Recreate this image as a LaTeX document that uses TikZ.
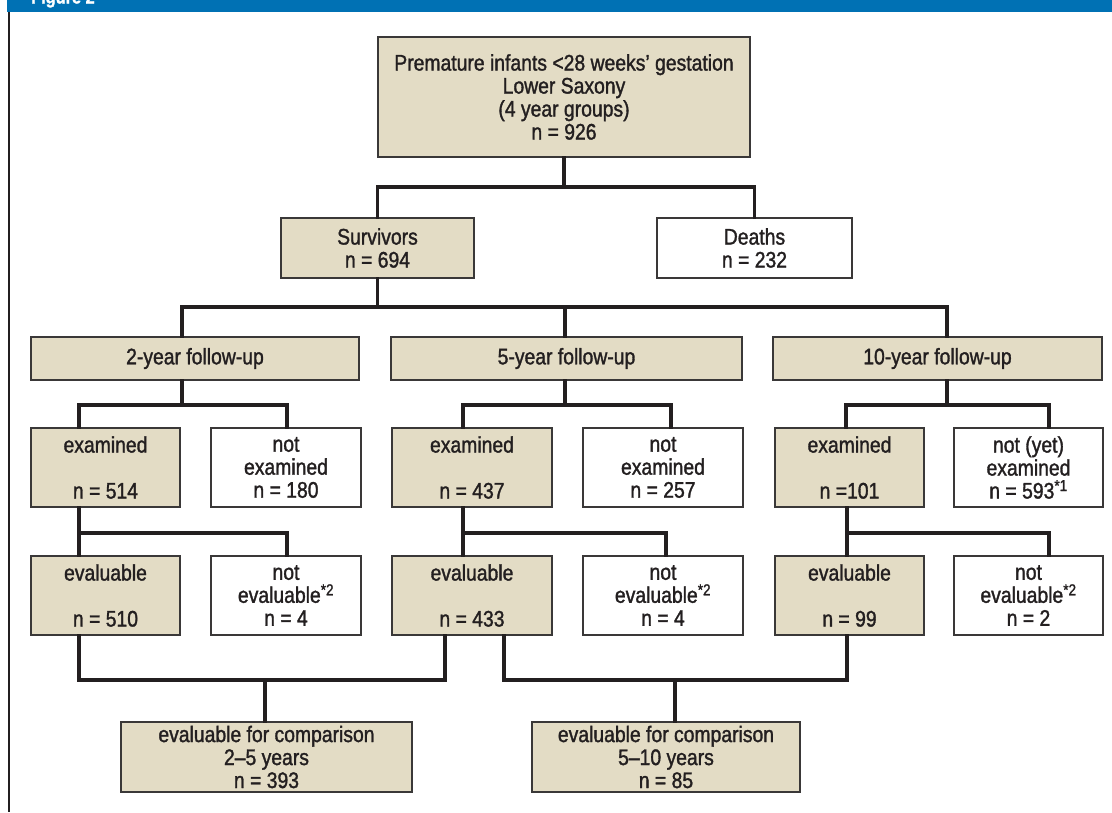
\documentclass[tikz,border=0pt]{standalone}
\usepackage{fontspec}
\setmainfont[FakeStretch=0.86,FakeBold=1.4]{Liberation Sans}
\definecolor{beige}{HTML}{E3DCC5}
\definecolor{ink}{HTML}{231F20}
\definecolor{boxline}{HTML}{3A3838}
\definecolor{barblue}{HTML}{0071B4}
\begin{document}
\begin{tikzpicture}[x=1pt,y=-1pt,
  box/.style={draw=boxline,line width=1.3pt,fill=beige,inner sep=0pt,align=center,
    text=ink,font=\fontsize{22.5}{23}\selectfont},
  wbox/.style={box,fill=white},
  conn/.style={draw=ink,line width=3.4pt,line cap=rect},
]
\useasboundingbox (0,0) rectangle (1112,812);
\fill[white] (0,0) rectangle (1112,812);
% header bar
\fill[barblue] (7,0) rectangle (1112,11.5);
\node[anchor=base west,inner sep=0pt,text=white,font=\bfseries\fontsize{19}{19}\selectfont] (title) at (31,3.5) {Figure 2};
\draw[ink,line width=2pt] (9,11.5) -- (9,812);
% nodes
\node[box,minimum width=372pt,minimum height=120pt] (top) at (564,97)
  {Premature infants <28 weeks’ gestation\\Lower Saxony\\(4 year groups)\\n = 926};
\node[box,minimum width=193pt,minimum height=60pt] (surv) at (377.5,248) {Survivors\\n = 694};
\node[wbox,minimum width=195pt,minimum height=60pt] (death) at (754.5,248) {Deaths\\n = 232};
\node[box,minimum width=328pt,minimum height=43pt] (fu1) at (195,358.5) {2-year follow-up};
\node[box,minimum width=351pt,minimum height=43pt] (fu2) at (566.5,358.5) {5-year follow-up};
\node[box,minimum width=329pt,minimum height=43pt] (fu3) at (937.5,358.5) {10-year follow-up};
% examined row
\node[box,minimum width=149pt,minimum height=79pt] (ex1) at (105.5,467.5) {examined\\[23pt]n = 514};
\node[wbox,minimum width=150pt,minimum height=79pt] (nex1) at (286,467.5) {not\\examined\\n = 180};
\node[box,minimum width=160pt,minimum height=79pt] (ex2) at (472,467.5) {examined\\[23pt]n = 437};
\node[wbox,minimum width=160pt,minimum height=79pt] (nex2) at (663,467.5) {not\\examined\\n = 257};
\node[box,minimum width=149pt,minimum height=79pt] (ex3) at (849.5,467.5) {examined\\[23pt]n =101};
\node[wbox,minimum width=149pt,minimum height=79pt] (nex3) at (1028.5,467.5) {not (yet)\\examined\\n = 593\textsuperscript{*1}};
% evaluable row
\node[box,minimum width=149pt,minimum height=79pt] (ev1) at (105.5,595.5) {evaluable\\[23pt]n = 510};
\node[wbox,minimum width=150pt,minimum height=79pt] (nev1) at (286,595.5) {not\\evaluable\textsuperscript{*2}\\n = 4};
\node[box,minimum width=160pt,minimum height=79pt] (ev2) at (472,595.5) {evaluable\\[23pt]n = 433};
\node[wbox,minimum width=160pt,minimum height=79pt] (nev2) at (663,595.5) {not\\evaluable\textsuperscript{*2}\\n = 4};
\node[box,minimum width=149pt,minimum height=79pt] (ev3) at (849.5,595.5) {evaluable\\[23pt]n = 99};
\node[wbox,minimum width=149pt,minimum height=79pt] (nev3) at (1028.5,595.5) {not\\evaluable\textsuperscript{*2}\\n = 2};
% comparison
\node[box,minimum width=291pt,minimum height=70pt] (cmp1) at (266.5,757) {evaluable for comparison\\2–5 years\\n = 393};
\node[box,minimum width=268pt,minimum height=70pt] (cmp2) at (666,757) {evaluable for comparison\\5–10 years\\n = 85};
% junction coordinates
\coordinate (b1) at (564,187);
\coordinate (f1) at (182,307);
\coordinate (f2) at (565,307);
\coordinate (f3) at (947,307);
\coordinate (e1l) at (79,405);  \coordinate (e1r) at (287,405);
\coordinate (e2l) at (463,405); \coordinate (e2r) at (671,405);
\coordinate (e3l) at (846,405); \coordinate (e3r) at (1049,405);
\coordinate (v1l) at (79,533);  \coordinate (v1r) at (287,533);
\coordinate (v2l) at (463,533); \coordinate (v2r) at (666,533);
\coordinate (v3l) at (847,533); \coordinate (v3r) at (1049,533);
\coordinate (c1l) at (79,680);  \coordinate (c1r) at (445,680); \coordinate (c1m) at (265,680);
\coordinate (c2l) at (504,680); \coordinate (c2r) at (847,680); \coordinate (c2m) at (675,680);
% connectors
\draw[conn] (top.south) -- (b1);
\draw[conn] (surv.north) -- (surv.north |- b1) -- (death.north |- b1) -- (death.north);
\draw[conn] (surv.south) -- (surv.south |- f1);
\draw[conn] (f1 |- fu1.north) -- (f1) -- (f3) -- (f3 |- fu3.north);
\draw[conn] (f2) -- (f2 |- fu2.north);
% follow-up to examined
\draw[conn] (f1 |- fu1.south) -- (f1 |- e1l);
\draw[conn] (e1l |- ex1.north) -- (e1l) -- (e1r) -- (e1r |- nex1.north);
\draw[conn] (f2 |- fu2.south) -- (f2 |- e2l);
\draw[conn] (e2l |- ex2.north) -- (e2l) -- (e2r) -- (e2r |- nex2.north);
\draw[conn] (f3 |- fu3.south) -- (f3 |- e3l);
\draw[conn] (e3l |- ex3.north) -- (e3l) -- (e3r) -- (e3r |- nex3.north);
% examined to evaluable
\draw[conn] (v1l |- ex1.south) -- (v1l |- ev1.north);
\draw[conn] (v1l) -- (v1r) -- (v1r |- nev1.north);
\draw[conn] (v2l |- ex2.south) -- (v2l |- ev2.north);
\draw[conn] (v2l) -- (v2r) -- (v2r |- nev2.north);
\draw[conn] (v3l |- ex3.south) -- (v3l |- ev3.north);
\draw[conn] (v3l) -- (v3r) -- (v3r |- nev3.north);
% evaluable to comparison
\draw[conn] (c1l |- ev1.south) -- (c1l) -- (c1r) -- (c1r |- ev2.south);
\draw[conn] (c1m) -- (c1m |- cmp1.north);
\draw[conn] (c2l |- ev2.south) -- (c2l) -- (c2r) -- (c2r |- ev3.south);
\draw[conn] (c2m) -- (c2m |- cmp2.north);
\end{tikzpicture}
\end{document}
